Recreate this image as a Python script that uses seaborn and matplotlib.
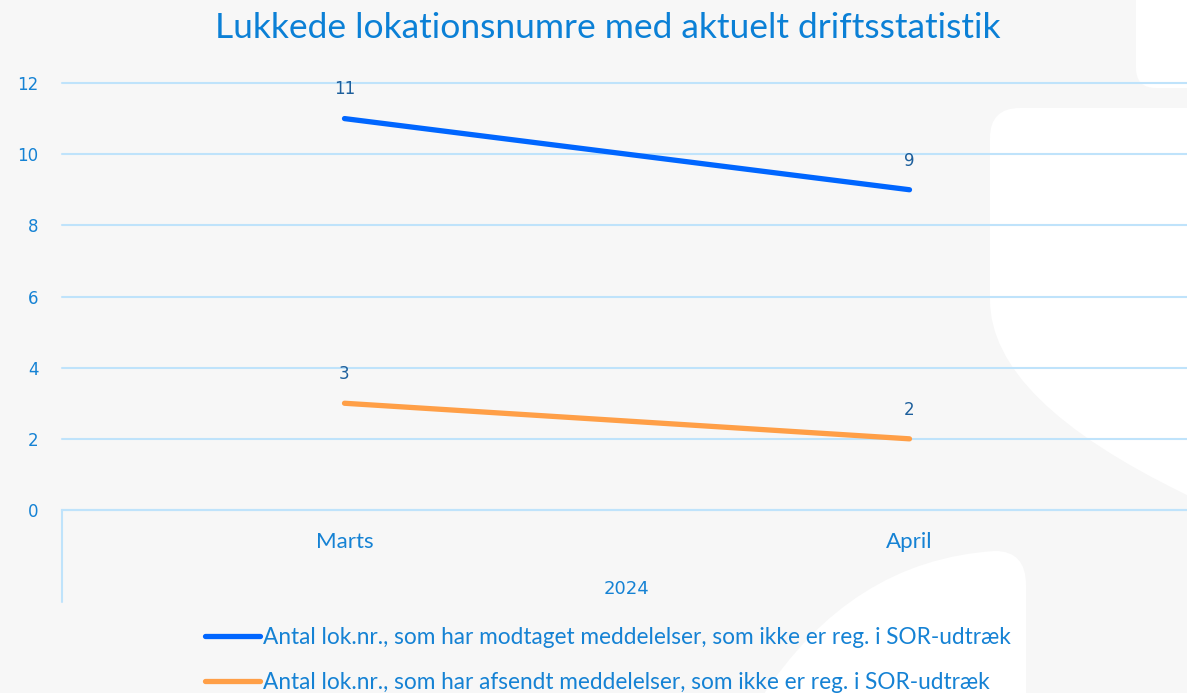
import matplotlib.pyplot as plt
import seaborn as sns
import pandas as pd
from matplotlib.path import Path
from matplotlib.patches import PathPatch
from matplotlib.transforms import Affine2D

# data
months = ["Marts", "April"]
year_label = "2024"
modtaget = [11, 9]
afsendt = [3, 2]
series_names = [
    "Antal lok.nr., som har modtaget meddelelser, som ikke er reg. i SOR-udtræk",
    "Antal lok.nr., som har afsendt meddelelser, som ikke er reg. i SOR-udtræk",
]
title = "Lukkede lokationsnumre med aktuelt driftsstatistik"

df = pd.DataFrame({
    "month": months * 2,
    "value": modtaget + afsendt,
    "series": [series_names[0]] * 2 + [series_names[1]] * 2,
})

sns.set_theme(style="white")
plt.rcParams["font.family"] = ["Lato", "DejaVu Sans"]
num_font = ["DejaVu Sans"]

W, H = 1187, 693
fig = plt.figure(figsize=(W / 100, H / 100), dpi=100, facecolor="#f7f7f7")

# decorative white background shapes (pixel coords, y down)
px = Affine2D().scale(1 / W, -1 / H).translate(0, 1) + fig.transFigure
shapes = [
    [(1136, -10), (1200, -10), (1200, 88), (1156, 88), (1136, 88), (1136, 68), (1136, -10)],
    [(1020, 108), (1200, 108), (1200, 495), (1187, 495), (990, 400), (990, 300),
     (990, 138), (990, 108), (1020, 108)],
    [(760, 700), (850, 560), (995, 551), (1026, 551), (1026, 585), (1026, 700), (760, 700)],
]
codes = [
    [Path.MOVETO, Path.LINETO, Path.LINETO, Path.LINETO, Path.CURVE3, Path.CURVE3, Path.CLOSEPOLY],
    [Path.MOVETO, Path.LINETO, Path.LINETO, Path.LINETO, Path.CURVE3, Path.CURVE3,
     Path.LINETO, Path.CURVE3, Path.CURVE3],
    [Path.MOVETO, Path.CURVE3, Path.CURVE3, Path.CURVE3, Path.CURVE3, Path.LINETO, Path.CLOSEPOLY],
]
for verts, cds in zip(shapes, codes):
    fig.patches.append(PathPatch(Path(verts, cds), transform=px, facecolor="white",
                                 edgecolor="none", zorder=-5))

ax = fig.add_axes([62 / W, 1 - 510 / H, 1130 / W, 427 / H])
ax.set_facecolor("none")
ax.set_zorder(2)

sns.lineplot(data=df, x="month", y="value", hue="series",
             palette=["#0066ff", "#ff9f47"], linewidth=3.8, ax=ax,
             sort=False, legend=False)
for ln in ax.lines:
    ln.set_solid_capstyle("round")

for series, vals in zip(series_names, [modtaget, afsendt]):
    for i, v in enumerate(vals):
        ax.annotate(str(v), (i, v), xytext=(0, 21), textcoords="offset points",
                    ha="center", va="center", fontsize=12, color="#1d5f9c",
                    family=num_font)

ax.set_xlim(-0.5, 1.5)
ax.set_ylim(0, 12)
ax.set_yticks(range(0, 13, 2))
ax.grid(axis="y", color="#bfe3fb", linewidth=1.5)
for gl in ax.get_ygridlines():
    gl.set_clip_on(False)
ax.set_axisbelow(True)
for s in ["top", "right", "left"]:
    ax.spines[s].set_visible(False)
ax.spines["bottom"].set_color("#bfe3fb")
ax.spines["bottom"].set_linewidth(1.5)
ax.tick_params(axis="y", length=0, pad=17, labelsize=12, labelcolor="#1582d4")
for lbl in ax.get_yticklabels():
    lbl.set_family(num_font)
ax.tick_params(axis="x", length=0, pad=16, labelsize=16, labelcolor="#1582d4")
ax.set_xlabel("")
ax.set_ylabel("")

# group axis below categories
ax.plot([0, 0], [0, -92 / 427], transform=ax.transAxes, color="#bfe3fb",
        linewidth=1.5, clip_on=False)
ax.text(0.5, -79 / 427, year_label, transform=ax.transAxes, ha="center",
        va="center", fontsize=13, color="#1582d4", family=num_font)

fig.text(608 / W, 1 - 28 / H, title, ha="center", va="center",
         fontsize=25.5, color="#0b80d6")

handles = [plt.Line2D([], [], color=c, linewidth=3.8, solid_capstyle="round")
           for c in ["#0066ff", "#ff9f47"]]
fig.legend(handles, series_names, loc="upper left",
           bbox_to_anchor=(205 / W, 1 - 627 / H), frameon=False,
           fontsize=16.3, labelcolor="#1582d4", handlelength=2.45,
           handletextpad=0.12, labelspacing=1.05, borderpad=0, borderaxespad=0)

fig.savefig("out.png", dpi=100, facecolor=fig.get_facecolor())
